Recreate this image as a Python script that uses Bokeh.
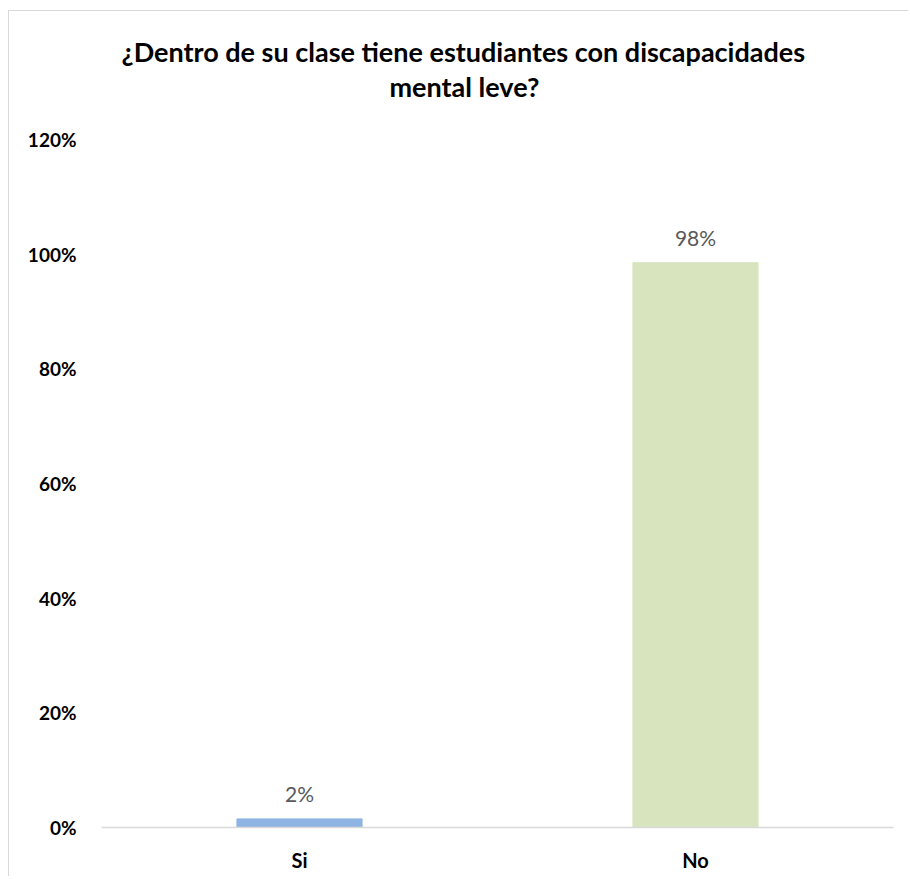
from bokeh.plotting import figure
from bokeh.models import FactorRange, Range1d, NumeralTickFormatter, FixedTicker, Title, ColumnDataSource
from bokeh.core.properties import value
from bokeh.embed import file_html
from bokeh.resources import INLINE

categories = ["Si", "No"]
values = [0.015, 0.985]
labels = ["2%", "98%"]
colors = ["#8eb4e3", "#d7e4bd"]
y_ticks = [0, 0.2, 0.4, 0.6, 0.8, 1.0, 1.2]
title_lines = ["¿Dentro de su clase tiene estudiantes con discapacidades", "mental leve?"]

FONT = "Lato"

src = ColumnDataSource(dict(cat=categories, val=values, lab=labels, col=colors))

p = figure(width=900, height=866, x_range=FactorRange(factors=categories, range_padding=0),
           y_range=Range1d(0, 1.2), output_backend="svg", toolbar_location=None,
           min_border_left=92, min_border_right=16, min_border_top=128, min_border_bottom=50)
p.styles = {"border-top": "1px solid #d9d9d9", "border-left": "1px solid #d9d9d9",
            "margin-left": "8px", "margin-top": "10px"}
p.outline_line_color = None
p.xgrid.grid_line_color = None
p.ygrid.grid_line_color = None

p.vbar(x="cat", top="val", width=0.316, color="col", source=src)
p.text(x="cat", y="val", text="lab", source=src, text_align="center", text_baseline="bottom",
       y_offset=-13, text_font=value(FONT), text_font_size="21px", text_color="#595959")

p.yaxis.ticker = FixedTicker(ticks=y_ticks)
p.yaxis.formatter = NumeralTickFormatter(format="0%")
p.yaxis.axis_line_color = None
p.yaxis.major_tick_line_color = None
p.yaxis.minor_tick_line_color = None
p.yaxis.major_label_text_font = FONT
p.yaxis.major_label_text_font_style = "bold"
p.yaxis.major_label_text_font_size = "19px"
p.yaxis.major_label_text_color = "#000000"
p.yaxis.major_label_standoff = 19

p.xaxis.axis_line_color = "#d9d9d9"
p.xaxis.axis_line_width = 1.5
p.xaxis.major_tick_line_color = None
p.xaxis.minor_tick_line_color = None
p.xaxis.major_label_text_font = FONT
p.xaxis.major_label_text_font_style = "bold"
p.xaxis.major_label_text_font_size = "20px"
p.xaxis.major_label_text_color = "#000000"
p.xaxis.major_label_standoff = 14

def title_kw(off, standoff=0):
    return dict(align="left", offset=off, text_font=FONT, text_font_style="bold",
                text_font_size="27px", text_color="#000000", text_line_height=1.0, standoff=standoff)

p.add_layout(Title(text=" ", **title_kw(0, 2)), "above")
p.add_layout(Title(text=title_lines[1], **title_kw(288)), "above")
p.add_layout(Title(text=title_lines[0], **title_kw(20)), "above")

open("out.html", "w").write(file_html(p, INLINE))
